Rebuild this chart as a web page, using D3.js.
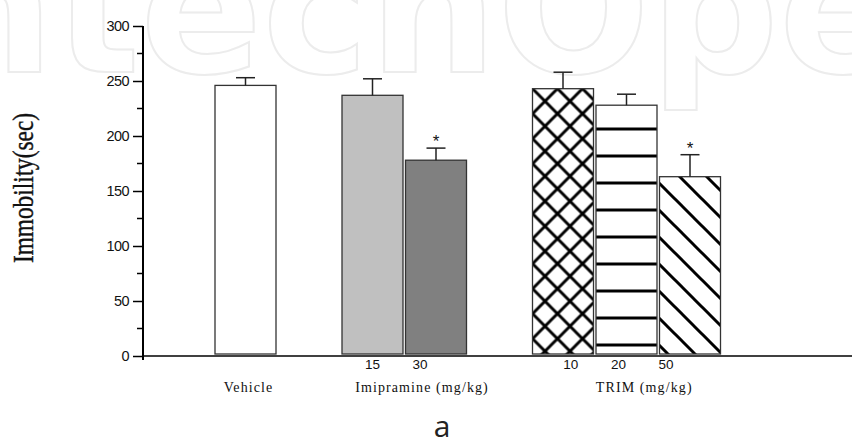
<!DOCTYPE html>
<html>
<head>
<meta charset="utf-8">
<script src="https://cdn.jsdelivr.net/npm/d3@7"></script>
<style>
  body { margin: 0; background: #fff; }
  svg { display: block; }
</style>
</head>
<body>
<svg id="chart" width="852" height="441"></svg>
<script>
// data
var groups = ['Vehicle', 'Imipramine (mg/kg)', 'TRIM (mg/kg)'];
var doses = ['', '15', '30', '10', '20', '50'];
var barGroup = [0, 1, 1, 2, 2, 2];
var means = [246, 237, 178, 243, 228, 163];
var sems = [7, 15, 11, 15, 10, 20];
var signif = [false, false, true, false, false, true];
var fills = ['#fff', '#c0c0c0', '#808080', 'url(#cross)', 'url(#hlines)', 'url(#diag)'];
var yTicks = [0, 50, 100, 150, 200, 250, 300];
var yMinor = [25, 75, 125, 175, 225, 275];

var svg = d3.select('#chart');
var sans = 'Liberation Sans, Arial, sans-serif';
var serif = 'Liberation Serif, Times New Roman, serif';

// watermark behind everything
svg.append('text')
  .attr('x', -141).attr('y', 72)
  .attr('font-family', 'DejaVu Sans, sans-serif')
  .attr('font-weight', 700)
  .attr('font-size', 180)
  .attr('fill', '#fff')
  .attr('stroke', '#ececec')
  .attr('stroke-width', 2)
  .text('IntechOpen');

var slots = means.map(function(d, i){ return i + barGroup[i]; }); // one empty slot between groups
var step = 63.5, barW = 61;

var x = d3.scaleLinear().domain([0, 7]).range([215, 215 + 7 * step]);
var y = d3.scaleLinear().domain([0, 300]).range([356, 26]);

// fill patterns
var defs = svg.append('defs');

var cross = defs.append('pattern').attr('id', 'cross')
  .attr('patternUnits', 'userSpaceOnUse')
  .attr('x', x(slots[3])).attr('y', y(means[3]))
  .attr('width', 25).attr('height', 25);
cross.append('rect').attr('width', 25).attr('height', 25).attr('fill', '#fff');
[-25, 0, 25].forEach(function(c){
  cross.append('path').attr('d', 'M' + (c - 2) + ',-2L' + (c + 27) + ',27')
    .attr('stroke', '#000').attr('stroke-width', 3);
  cross.append('path').attr('d', 'M' + (c + 27) + ',-2L' + (c - 2) + ',27')
    .attr('stroke', '#000').attr('stroke-width', 3);
});

var hl = defs.append('pattern').attr('id', 'hlines')
  .attr('patternUnits', 'userSpaceOnUse')
  .attr('x', 0).attr('y', 127.5)
  .attr('width', 10).attr('height', 27);
hl.append('rect').attr('width', 10).attr('height', 27).attr('fill', '#fff');
hl.append('rect').attr('width', 10).attr('height', 3).attr('fill', '#000');

var dg = defs.append('pattern').attr('id', 'diag')
  .attr('patternUnits', 'userSpaceOnUse')
  .attr('x', 0).attr('y', 10)
  .attr('width', 27).attr('height', 27);
dg.append('rect').attr('width', 27).attr('height', 27).attr('fill', '#fff');
[-27, 0, 27].forEach(function(c){
  dg.append('path').attr('d', 'M' + (c - 2) + ',-2L' + (c + 29) + ',29')
    .attr('stroke', '#000').attr('stroke-width', 3);
});

// bars
svg.selectAll('rect.bar')
  .data(means)
  .enter()
  .append('rect')
  .attr('class', 'bar')
  .attr('x', function(d, i){ return x(slots[i]); })
  .attr('y', function(d){ return y(d); })
  .attr('width', barW)
  .attr('height', function(d){ return y(0) - y(d) - 2; })
  .attr('fill', function(d, i){ return fills[i]; })
  .attr('stroke', '#333')
  .attr('stroke-width', 1.3);

// error bars (upper only)
var err = svg.selectAll('g.err')
  .data(means)
  .enter()
  .append('g')
  .attr('class', 'err')
  .attr('transform', function(d, i){ return 'translate(' + (x(slots[i]) + barW / 2) + ',0)'; });

err.append('line')
  .attr('y1', function(d){ return y(d); })
  .attr('y2', function(d, i){ return y(d + sems[i]); })
  .attr('stroke', '#222').attr('stroke-width', 1.5);
err.append('line')
  .attr('x1', -9.5).attr('x2', 9.5)
  .attr('y1', function(d, i){ return y(d + sems[i]); })
  .attr('y2', function(d, i){ return y(d + sems[i]); })
  .attr('stroke', '#222').attr('stroke-width', 1.5);
err.filter(function(d, i){ return signif[i]; })
  .append('text')
  .attr('text-anchor', 'middle')
  .attr('y', function(d, i){ return y(d + sems[i]) - 6; })
  .attr('font-family', sans).attr('font-size', 17)
  .attr('fill', '#111')
  .text('*');

// y axis
var yAxis = svg.append('g')
  .attr('transform', 'translate(143,0)')
  .call(d3.axisLeft(y).tickValues(yTicks).tickSize(10).tickPadding(4));
yAxis.select('.domain').remove();
yAxis.selectAll('.tick line').attr('stroke', '#000').attr('stroke-width', 1.5);
yAxis.selectAll('.tick text')
  .attr('font-family', sans).attr('font-size', 14.5)
  .attr('letter-spacing', -0.6).attr('fill', '#111');
yAxis.selectAll('line.minor')
  .data(yMinor)
  .enter()
  .append('line')
  .attr('class', 'minor')
  .attr('x1', -6).attr('x2', 0)
  .attr('y1', function(d){ return y(d); })
  .attr('y2', function(d){ return y(d); })
  .attr('stroke', '#000').attr('stroke-width', 1.5);
yAxis.append('line')
  .attr('y1', y(300)).attr('y2', y(0) + 4)
  .attr('stroke', '#000').attr('stroke-width', 2);

// x axis line
svg.append('line')
  .attr('x1', 143).attr('x2', 852)
  .attr('y1', y(0)).attr('y2', y(0))
  .attr('stroke', '#000').attr('stroke-width', 1.5);

// group and dose labels
groups.forEach(function(g, gi){
  var idx = d3.range(means.length).filter(function(i){ return barGroup[i] === gi; });
  var x0 = x(slots[idx[0]]), x1 = x(slots[idx[idx.length - 1]]) + barW;
  var mid = (x0 + x1) / 2;
  var n = idx.length;
  if (n > 1) {
    idx.forEach(function(i, k){
      svg.append('text')
        .attr('x', mid - 8 + (k - (n - 1) / 2) * step * 0.75)
        .attr('y', 369)
        .attr('text-anchor', 'middle')
        .attr('font-family', sans).attr('font-size', 13.5)
        .attr('fill', '#111')
        .text(doses[i]);
    });
  }
  svg.append('text')
    .attr('x', mid + (n > 1 ? step * 0.28 : 3))
    .attr('y', 392)
    .attr('text-anchor', 'middle')
    .attr('font-family', serif).attr('font-size', 14)
    .attr('letter-spacing', 1.1)
    .attr('fill', '#111')
    .text(g);
});

// y axis title
svg.append('text')
  .attr('transform', 'translate(33,188) rotate(-90)')
  .attr('text-anchor', 'middle')
  .attr('font-family', serif).attr('font-size', 30)
  .attr('textLength', 150).attr('lengthAdjust', 'spacingAndGlyphs')
  .attr('fill', '#111')
  .attr('stroke', '#111').attr('stroke-width', 0.4)
  .text('Immobility(sec)');

// panel letter
svg.append('text')
  .attr('x', 442).attr('y', 437)
  .attr('text-anchor', 'middle')
  .attr('font-family', 'Open Sans, sans-serif').attr('font-size', 30)
  .attr('fill', '#222')
  .text('a');
</script>
</body>
</html>
